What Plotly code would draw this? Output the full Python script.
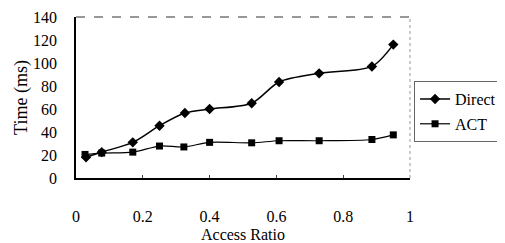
import plotly.graph_objects as go

direct_x = [0.03, 0.077, 0.17, 0.25, 0.326, 0.40, 0.526, 0.608, 0.728, 0.886, 0.95]
direct_y = [18, 22.5, 31, 45.5, 56.5, 60, 65, 83.5, 91, 97, 116]
act_x = [0.027, 0.077, 0.17, 0.25, 0.323, 0.40, 0.526, 0.608, 0.728, 0.886, 0.95]
act_y = [20.5, 21.7, 22.5, 27.8, 27, 31, 30.6, 32.4, 32.4, 33.5, 37.5]
x_ticks = [0, 0.2, 0.4, 0.6, 0.8, 1]
x_labels = ["0", "0.2", "0.4", "0.6", "0.8", "1"]
y_ticks = [0, 20, 40, 60, 80, 100, 120, 140]

font = "Liberation Serif"

fig = go.Figure()
fig.add_trace(go.Scatter(x=direct_x, y=direct_y, name="Direct", mode="lines+markers",
                         legendgroup="a",
                         line=dict(color="black", width=1.5, shape="spline", smoothing=0.8),
                         marker=dict(symbol="diamond", size=8, color="black")))
fig.add_trace(go.Scatter(x=act_x, y=act_y, name="ACT", mode="lines+markers",
                         legendgroup="b",
                         line=dict(color="black", width=1.2, shape="spline", smoothing=0.8),
                         marker=dict(symbol="square", size=7, color="black")))

# page body has an 8px margin, so the figure is sized/offset to compensate
fig.update_layout(
    width=497, height=235,
    margin=dict(l=68, r=95, t=9, b=65, autoexpand=False),
    paper_bgcolor="white", plot_bgcolor="white",
    font=dict(family=font, size=17, color="black"),
    showlegend=True,
    legend=dict(xref="container", yref="container", x=0.817, y=0.689,
                xanchor="left", yanchor="top",
                bordercolor="#666", borderwidth=1, bgcolor="white",
                font=dict(family=font, size=16), tracegroupgap=1,
                itemwidth=30),
    xaxis=dict(range=[0, 1], tickvals=x_ticks, ticktext=x_labels, automargin=False,
               showgrid=False, zeroline=False, showline=True, linecolor="black",
               linewidth=1.5, ticks="inside", ticklen=3, tickcolor="#444",
               ticklabelstandoff=23, ticklabeloverflow="allow",
               title=dict(text="Access Ratio", standoff=12, font=dict(size=16)),
               tickfont=dict(size=16)),
    yaxis=dict(range=[0, 140], tickvals=y_ticks, automargin=False,
               showgrid=False, zeroline=False, showline=True, linecolor="black",
               linewidth=1.5, ticks="", ticklabelstandoff=14, ticklabeloverflow="allow",
               title=dict(text="Time (ms)", standoff=1, font=dict(size=18)),
               tickfont=dict(size=16)),
    shapes=[
        dict(type="line", xref="paper", yref="paper", x0=0, x1=1, y0=1, y1=1,
             line=dict(color="#333", width=1.2, dash="dash")),
        dict(type="line", xref="paper", yref="paper", x0=1, x1=1, y0=0, y1=1,
             line=dict(color="#999", width=1, dash="dot")),
    ],
)

fig.write_html("out.html")
